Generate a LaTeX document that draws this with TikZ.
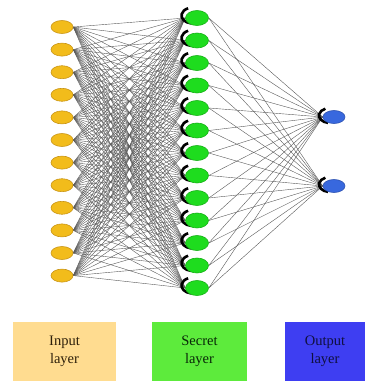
\documentclass[tikz,border=0pt]{standalone}
\usepackage{fontspec}
\setmainfont{Liberation Serif}
\usetikzlibrary{shapes.geometric}
\definecolor{inpfill}{HTML}{F2BC1B}
\definecolor{inpdraw}{HTML}{C99516}
\definecolor{hidfill}{HTML}{1EDC1E}
\definecolor{hiddraw}{HTML}{17B017}
\definecolor{outfill}{HTML}{3868DE}
\definecolor{outdraw}{HTML}{2A50B0}
\definecolor{boxin}{HTML}{FFDC90}
\definecolor{boxhid}{HTML}{5DEB3C}
\definecolor{boxout}{HTML}{3E3EF2}
\definecolor{txtin}{HTML}{2E200A}
\definecolor{txthid}{HTML}{082808}
\definecolor{txtout}{HTML}{101040}
\tikzset{
  inp/.style={ellipse,fill=inpfill,draw=inpdraw,line width=0.6pt,minimum width=22pt,minimum height=13pt,inner sep=0pt},
  hid/.style={ellipse,fill=hidfill,draw=hiddraw,line width=0.6pt,minimum width=23pt,minimum height=15pt,inner sep=0pt},
  outn/.style={ellipse,fill=outfill,draw=outdraw,line width=0.6pt,minimum width=22pt,minimum height=13pt,inner sep=0pt},
  wire/.style={draw=black!65,line width=0.4pt},
  crescent/.style={draw=black,line width=2.6pt},
  legend/.style={minimum height=59pt,inner sep=0pt,align=center,font=\fontsize{14.5}{17.5}\selectfont}
}
\begin{document}
\begin{tikzpicture}[x=1pt,y=-1pt]
\useasboundingbox (0,0) rectangle (365,381);
% node coordinates
\foreach \i in {1,...,12} {
  \coordinate (ip\i) at (62,{27+22.6*(\i-1)});
}
\foreach \j in {1,...,13} {
  \coordinate (hp\j) at (197,{18+22.5*(\j-1)});
}
\coordinate (op1) at (334,117);
\coordinate (op2) at (334,186);
% invisible nodes carrying the names for the wires
\begin{scope}[opacity=0]
\foreach \i in {1,...,12} \node[inp] (i\i) at (ip\i) {};
\foreach \j in {1,...,13} \node[hid] (h\j) at (hp\j) {};
\node[outn] (o1) at (op1) {};
\node[outn] (o2) at (op2) {};
\end{scope}
% wires
\foreach \i in {1,...,12} {
  \foreach \j in {1,...,13} {
    \draw[wire] (i\i.east) -- (h\j.west);
  }
}
\foreach \j in {1,...,13} {
  \draw[wire] (h\j.east) -- (o1.west);
  \draw[wire] (h\j.east) -- (o2.west);
}
% crescents
\foreach \j in {1,...,13} {
  \draw[crescent] ([xshift=-4pt,yshift=2.5pt]h\j.center) ++(100:11.5 and 8) arc[start angle=100,end angle=245,x radius=11.5,y radius=8];
}
\draw[crescent] ([xshift=-4pt,yshift=1.5pt]o1.center) ++(100:11 and 7.5) arc[start angle=100,end angle=245,x radius=11,y radius=7.5];
\draw[crescent] ([xshift=-4pt,yshift=1.5pt]o2.center) ++(100:11 and 7.5) arc[start angle=100,end angle=245,x radius=11,y radius=7.5];
% visible nodes
\foreach \i in {1,...,12} \node[inp] at (ip\i) {};
\foreach \j in {1,...,13} \node[hid] at (hp\j) {};
\node[outn] at (op1) {};
\node[outn] at (op2) {};
% legend boxes
\node[legend,fill=boxin,text=txtin,minimum width=103pt] (lin) at (64.5,351.5) {Input\\layer};
\node[legend,fill=boxhid,text=txthid,minimum width=95pt] (lhid) at (199.5,351.5) {Secret\\layer};
\node[legend,fill=boxout,text=txtout,minimum width=80pt] (lout) at (325,351.5) {Output\\layer};
\end{tikzpicture}
\end{document}
